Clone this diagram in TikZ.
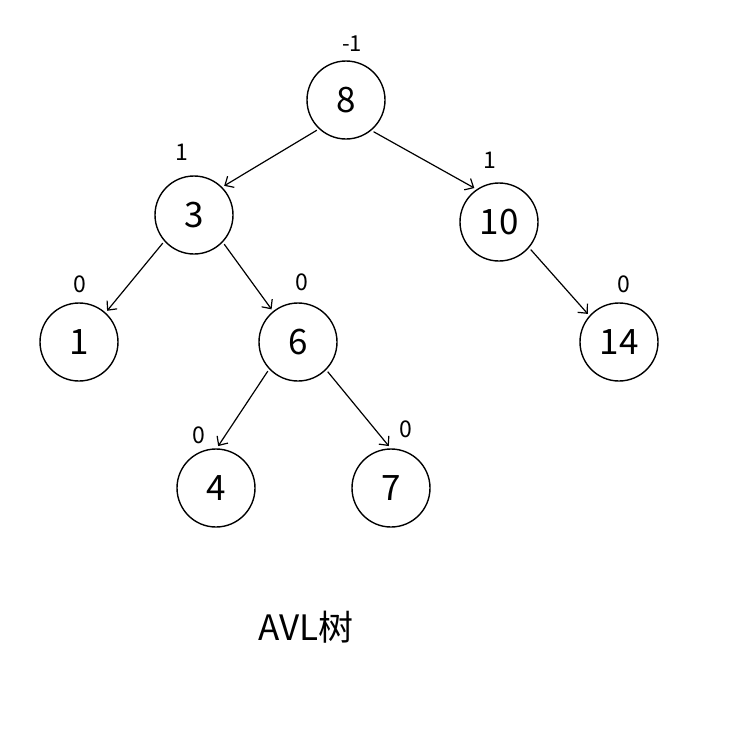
\documentclass[tikz,border=0pt]{standalone}
\usepackage{fontspec}
\setmainfont{Noto Sans CJK SC}
\usetikzlibrary{arrows.meta}
\begin{document}
\begin{tikzpicture}[x=1pt,y=-1pt,
  tn/.style={circle,draw,line width=1.4pt,minimum size=78pt,inner sep=0pt,outer sep=3pt,font=\fontsize{35}{40}\selectfont},
  bf/.style={font=\fontsize{23}{26}\selectfont,inner sep=0pt},
  ed/.style={line width=1.2pt,-{Straight Barb[length=7pt,width=13pt,line width=1.2pt]}}]
\useasboundingbox (0,0) rectangle (732,729);
\node[tn] (n8) at (346,100) {8};
\node[tn] (n3) at (194,215) {3};
\node[tn] (n10) at (499,222) {10};
\node[tn] (n1) at (79,342) {1};
\node[tn] (n6) at (298,342) {6};
\node[tn] (n14) at (619,342) {14};
\node[tn] (n4) at (216,488) {4};
\node[tn] (n7) at (391,488) {7};
\node[bf,font=\fontsize{22}{25}\selectfont] (b8) at (352,44) {-1};
\node[bf] (b3) at (182,152) {1};
\node[bf] (b10) at (490,160) {1};
\node[bf] (b1) at (80,284) {0};
\node[bf] (b6) at (302,282) {0};
\node[bf] (b14) at (624,284) {0};
\node[bf] (b4) at (199,435) {0};
\node[bf] (b7) at (406,429) {0};
\draw[ed] (n8.226) -- (n3.44);
\draw[ed] (n8.311) -- (n10.126);
\draw[ed] (n3.222) -- (n1.48);
\draw[ed] (n3.316) -- (n6.129);
\draw[ed] (n10.319) -- (n14.138);
\draw[ed] (n6.224) -- (n4.87);
\draw[ed] (n6.315) -- (n7.93);
\node[font=\fontsize{35}{40}\selectfont] (title) at (306,627) {AVL树};
\end{tikzpicture}
\end{document}
